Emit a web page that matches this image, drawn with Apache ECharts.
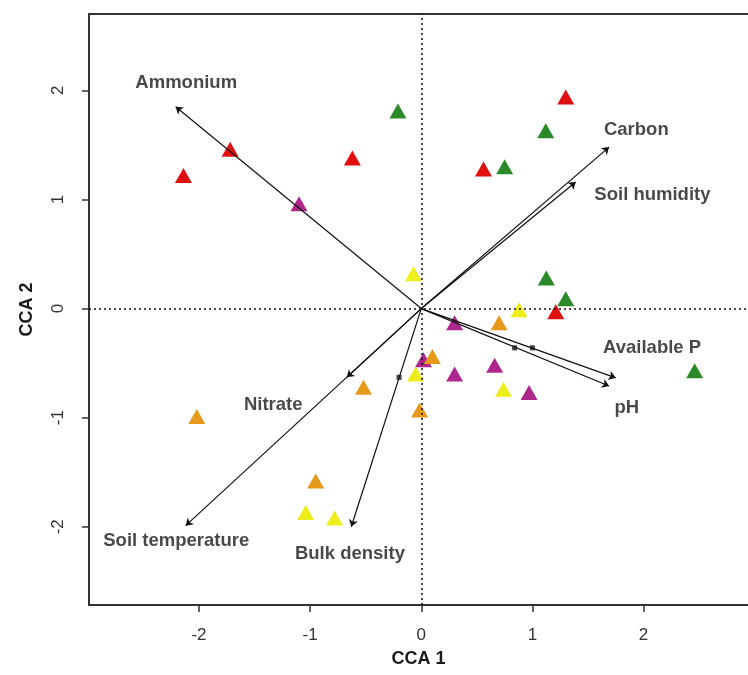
<!DOCTYPE html>
<html><head><meta charset="utf-8">
<script src="https://cdn.jsdelivr.net/npm/echarts@6/dist/echarts.min.js"></script>
<style>html,body{margin:0;padding:0;background:#fff}#chart{width:748px;height:675px}</style>
</head><body><div id="chart"></div>
<script>
const xTicks = [-2, -1, 0, 1, 2];
const yTicks = [-2, -1, 0, 1, 2];
const redPts = [[-2.14,1.22],[-1.72,1.46],[-0.62,1.38],[0.56,1.28],[1.30,1.94],[1.21,-0.03]];
const greenPts = [[-0.21,1.81],[0.75,1.30],[1.12,1.63],[1.125,0.28],[1.30,0.09],[2.46,-0.57]];
const purplePts = [[-1.10,0.96],[0.30,-0.13],[0.02,-0.47],[0.30,-0.60],[0.66,-0.52],[0.97,-0.77]];
const yellowPts = [[-0.07,0.32],[0.88,-0.01],[-0.05,-0.60],[0.74,-0.74],[-1.04,-1.87],[-0.78,-1.92]];
const orangePts = [[0.70,-0.13],[0.10,-0.44],[-0.52,-0.72],[-0.015,-0.93],[-2.02,-0.99],[-0.95,-1.58]];
const vectorNames = ['Ammonium','Carbon','Soil humidity','Available P','pH','Nitrate','Soil temperature','Bulk density'];
const vectorTips = [[-2.21,1.85],[1.69,1.48],[1.39,1.16],[1.75,-0.635],[1.69,-0.71],[-0.67,-0.63],[-2.12,-1.99],[-0.63,-2.00]];
const labelPos = [[-2.115,2.07],[1.935,1.64],[2.08,1.045],[2.077,-0.362],[1.85,-0.907],[-1.332,-0.88],[-2.205,-2.13],[-0.642,-2.245]];
const minorMarks = [[-0.20,-0.63],[0.84,-0.36],[1.00,-0.36]];

const chart = echarts.init(document.getElementById('chart'), null, {renderer: 'canvas'});
const FONT = 'Liberation Sans, Arial, sans-serif';
const X_MIN = -2.99, X_MAX = 2.94;
function tri(data, color) {
  return {type: 'scatter', data: data, symbol: 'triangle', symbolSize: [17, 15],
    itemStyle: {color: color, opacity: 1}, z: 2, silent: true};
}
const option = {
  animation: false,
  backgroundColor: '#fff',
  grid: {left: 89, top: 14, width: 659, height: 591, show: false},
  xAxis: [{
    type: 'value', min: X_MIN, max: X_MAX,
    axisLine: {show: true, onZero: false, lineStyle: {color: '#333', width: 2}},
    splitLine: {show: false},
    axisTick: {show: true, inside: false, length: 7, lineStyle: {color: '#333', width: 1.5}, customValues: xTicks},
    axisLabel: {customValues: xTicks, margin: 22, fontSize: 17, color: '#333', fontFamily: FONT},
    name: 'CCA 1', nameLocation: 'middle', nameGap: 45,
    nameTextStyle: {fontWeight: 'bold', fontSize: 18, color: '#1a1a1a', fontFamily: FONT}
  }, {
    type: 'value', position: 'top', min: X_MIN, max: X_MAX,
    axisLine: {show: true, onZero: false, lineStyle: {color: '#333', width: 2}},
    splitLine: {show: false}, axisTick: {show: false}, axisLabel: {show: false}
  }],
  yAxis: {
    type: 'value', min: -2.717, max: 2.70,
    axisLine: {show: true, onZero: false, lineStyle: {color: '#333', width: 2}},
    splitLine: {show: false},
    axisTick: {show: true, inside: false, length: 7, lineStyle: {color: '#333', width: 1.5}, customValues: yTicks},
    axisLabel: {customValues: yTicks, rotate: 90, margin: 22, fontSize: 17, color: '#333', fontFamily: FONT},
    name: 'CCA 2', nameLocation: 'middle', nameGap: 53,
    nameTextStyle: {fontWeight: 'bold', fontSize: 18, color: '#1a1a1a', fontFamily: FONT}
  },
  series: [
    {type: 'scatter', data: [], silent: true,
      markLine: {silent: true, symbol: 'none', label: {show: false},
        lineStyle: {type: [2, 3], color: '#111', width: 1.5},
        data: [{xAxis: 0}, {yAxis: 0}]}},
    tri(redPts, '#e01010'),
    tri(greenPts, '#2a8a2a'),
    tri(purplePts, '#ac288d'),
    tri(yellowPts, '#eeee1c'),
    tri(orangePts, '#e59a1c'),
    {type: 'lines', coordinateSystem: 'cartesian2d', polyline: false, silent: true, z: 3,
      symbol: ['none', 'arrow'], symbolSize: 7,
      lineStyle: {color: '#111', width: 1.2, opacity: 1, curveness: 0},
      data: vectorTips.map(t => ({coords: [[0, 0], t]}))},
    {type: 'scatter', data: minorMarks, symbol: 'rect', symbolSize: 5, itemStyle: {color: '#111'}, z: 4, silent: true},
    {type: 'scatter', symbolSize: 0, z: 5, silent: true,
      data: labelPos.map((p, i) => ({name: vectorNames[i], value: p})),
      label: {show: true, position: 'inside', formatter: p => p.name,
        fontWeight: 'bold', fontSize: 18.5, color: '#1a1a1a', fontFamily: FONT}}
  ]
};
chart.setOption(option);
</script>
</body></html>
